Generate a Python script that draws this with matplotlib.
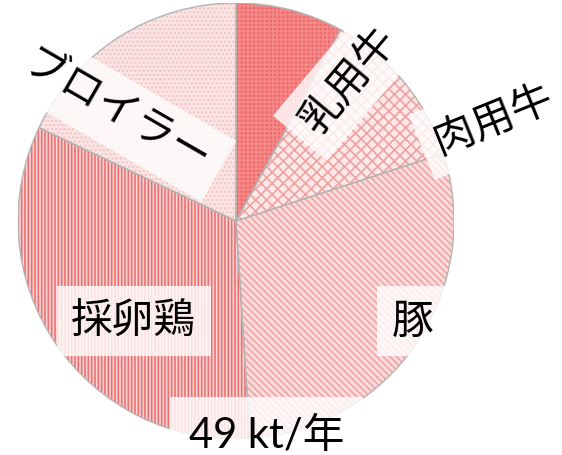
import matplotlib
matplotlib.use("Agg")
import matplotlib.pyplot as plt
from matplotlib.patches import Wedge

# annual emissions by livestock type, kt/year
categories = ["乳用牛", "肉用牛", "豚", "採卵鶏", "ブロイラー"]
values = [3.9, 5.9, 14.2, 16.2, 8.8]
unit = "kt/年"

face_colors = ["#f06a6a", "#fde8e8", "#fadcdc", "#fbd6d6", "#fbe6e6"]
hatch_colors = ["#f48a8a", "#eea2a2", "#efa4a4", "#ec7070", "#f4c4c4"]
hatches = ["++++", "xxx", "\\\\\\\\\\", "|||||", "...."]

# label placement (data units, pie radius = 1) and rotation
label_pos = [(0.52, 0.65), (1.18, 0.47), (0.81, -0.46), (-0.47, -0.46), (-0.55, 0.50)]
label_rot = [50, 22, 0, 0, -30]

plt.rcParams['font.family'] = ['Noto Sans CJK JP', 'DejaVu Sans']
plt.rcParams['hatch.linewidth'] = 1.2

fig = plt.figure(figsize=(5.62, 4.56), dpi=100)
ax = fig.add_axes([18 / 562, 16 / 456, 436 / 562, 436 / 456])

wedges, _ = ax.pie(values, colors=face_colors, startangle=90, counterclock=False,
                   radius=1, wedgeprops=dict(linewidth=0))

# hatch layer on top of each wedge, then the grey outlines
for w, hc, h in zip(wedges, hatch_colors, hatches):
    ax.add_patch(Wedge(w.center, w.r, w.theta1, w.theta2, facecolor='none',
                       edgecolor=hc, hatch=h, linewidth=0, zorder=2))
    ax.add_patch(Wedge(w.center, w.r, w.theta1, w.theta2, fill=False,
                       edgecolor='#b4b4b4', linewidth=1, zorder=3))

box = dict(boxstyle='square,pad=0.35', facecolor='white', edgecolor='none', alpha=0.8)
for name, (x, y), rot in zip(categories, label_pos, label_rot):
    ax.text(x, y, name, fontsize=30, rotation=rot, rotation_mode='anchor',
            ha='center', va='center', color='black', bbox=box, zorder=4)

total = sum(values)
ax.text(0.14, -0.98, "{:.0f} {}".format(total, unit), fontsize=30,
        family=['Lato', 'Noto Sans CJK JP'], ha='center', va='center',
        color='black', zorder=4,
        bbox=dict(boxstyle='square,pad=0.45', facecolor='white',
                  edgecolor='none', alpha=0.8))

ax.set_xlim(-1, 1)
ax.set_ylim(-1, 1)
ax.set_aspect('equal')
ax.axis('off')

fig.savefig("out.png", dpi=100)
